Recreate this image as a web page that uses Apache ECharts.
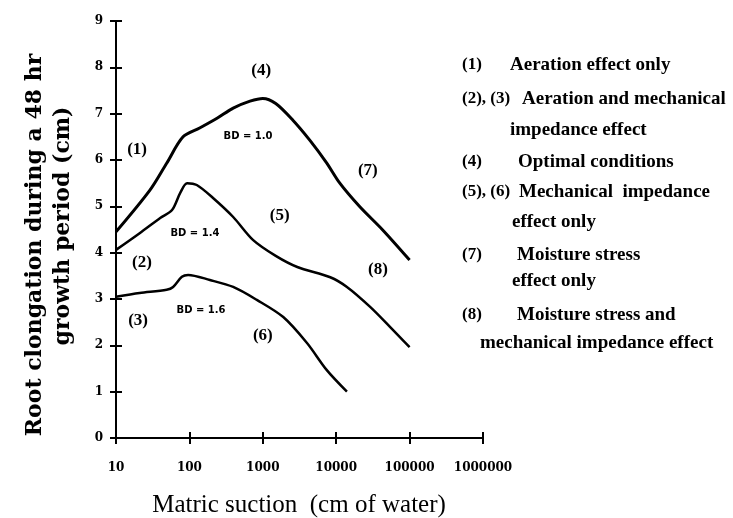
<!DOCTYPE html>
<html>
<head>
<meta charset="utf-8">
<script src="https://cdn.jsdelivr.net/npm/echarts@6/dist/echarts.min.js"></script>
<style>
html,body{margin:0;padding:0;background:#fff;}
#c{width:733px;height:518px;}
</style>
</head>
<body>
<div id="c"></div>
<script>
// ---- data ----
var xTicks = [10, 100, 1000, 10000, 100000, 1000000];
var yTicks = [0,1,2,3,4,5,6,7,8,9];

var suctionBD10 = [10, 29, 49, 82, 138, 238, 395, 670, 1000, 1500, 2570, 4360, 7400, 11200, 21000, 43000, 100000];
var elongBD10   = [4.45, 5.35, 5.93, 6.5, 6.69, 6.9, 7.12, 7.27, 7.33, 7.22, 6.86, 6.43, 5.94, 5.5, 4.99, 4.49, 3.84];

var suctionBD14 = [10, 21, 40, 58, 75, 93, 126, 210, 395, 740, 1500, 2950, 8300, 14000, 29000, 54000, 100000];
var elongBD14   = [4.06, 4.42, 4.75, 4.92, 5.29, 5.5, 5.46, 5.18, 4.77, 4.27, 3.93, 3.69, 3.47, 3.26, 2.83, 2.4, 1.96];

var suctionBD16 = [10, 21, 49, 60, 79, 96, 190, 395, 830, 1900, 4000, 7400, 14000];
var elongBD16   = [3.05, 3.13, 3.2, 3.26, 3.48, 3.52, 3.41, 3.26, 2.98, 2.61, 2.05, 1.47, 1.0];

var annoText = ["(4)", "(1)", "BD = 1.0", "(7)", "BD = 1.4", "(5)", "(2)", "(8)", "BD = 1.6", "(3)", "(6)"];
var annoX    = [950, 19.4, 630, 27000, 119, 1700, 22.6, 37000, 144, 20, 1000];
var annoY    = [7.94, 6.22, 6.5, 5.78, 4.42, 4.79, 3.78, 3.63, 2.76, 2.53, 2.2];

var legendLines = [
  ["(1)", "Aeration effect only"],
  ["(2), (3)", "Aeration and mechanical"],
  ["", "impedance effect"],
  ["(4)", "Optimal conditions"],
  ["(5), (6)", "Mechanical  impedance"],
  ["", "effect only"],
  ["(7)", "Moisture stress"],
  ["", "effect only"],
  ["(8)", "Moisture stress and"],
  ["", "mechanical impedance effect"]
];

var yTitle1 = "Root clongation during a 48 hr";
var yTitle2 = "growth period (cm)";
var xTitle  = "Matric suction  (cm of water)";

// ---- build ----
function pairs(xs, ys){ return xs.map(function(x,i){ return [x, ys[i]]; }); }
var serif = '"Liberation Serif","DejaVu Serif",serif';
var wideSerif = '"DejaVu Serif",serif';

var chart = echarts.init(document.getElementById('c'));

var legendX1 = [462, 462, 0, 462, 462, 0, 462, 0, 462, 0];
var legendX2 = [510, 522, 510, 518, 519, 512, 517, 512, 517, 480];
var legendY  = [65, 99, 130, 162, 192, 222, 255, 281, 315, 343];
var graphics = [];
legendLines.forEach(function(l, i){
  if (l[0]) graphics.push({type:'text', x:legendX1[i], y:legendY[i],
    style:{text:l[0], font:'bold 17px '+serif, fill:'#000', verticalAlign:'middle'}});
  graphics.push({type:'text', x:legendX2[i], y:legendY[i],
    style:{text:l[1], font:'bold 19px '+serif, fill:'#000', verticalAlign:'middle'}});
});
graphics.push({type:'text', x:35, y:245, rotation:Math.PI/2,
  style:{text:yTitle1, font:'bold 22px '+wideSerif, fill:'#000', align:'center', verticalAlign:'middle'}});
graphics.push({type:'text', x:63, y:226, rotation:Math.PI/2,
  style:{text:yTitle2, font:'bold 22px '+wideSerif, fill:'#000', align:'center', verticalAlign:'middle'}});
graphics.push({type:'text', x:299, y:505,
  style:{text:xTitle, font:'25px '+serif, fill:'#000', align:'center', verticalAlign:'middle'}});

var tickLabel = {color:'#000', fontFamily:wideSerif, fontWeight:'bold', fontSize:12};

chart.setOption({
  animation:false,
  backgroundColor:'#fff',
  grid:{left:116, right:250, top:21, bottom:80},
  xAxis:[{
    type:'log', logBase:10, min:xTicks[0], max:xTicks[xTicks.length-1],
    axisLine:{show:true, lineStyle:{color:'#000', width:2}},
    axisTick:{show:true, length:6, lineStyle:{color:'#000', width:2}},
    minorTick:{show:false},
    axisLabel:Object.assign({margin:24, formatter:function(v){return String(v);}}, tickLabel),
    splitLine:{show:false}
  },{
    type:'log', logBase:10, min:xTicks[0], max:xTicks[xTicks.length-1], position:'bottom',
    axisLine:{show:false},
    axisTick:{show:true, inside:true, length:6, lineStyle:{color:'#000', width:2}},
    axisLabel:{show:false}, splitLine:{show:false}
  }],
  yAxis:[{
    type:'value', min:yTicks[0], max:yTicks[yTicks.length-1], interval:1,
    axisLine:{show:true, lineStyle:{color:'#000', width:2}},
    axisTick:{show:true, length:6, lineStyle:{color:'#000', width:2}},
    axisLabel:Object.assign({margin:13}, tickLabel),
    splitLine:{show:false}
  },{
    type:'value', min:yTicks[0], max:yTicks[yTicks.length-1], interval:1, position:'left',
    axisLine:{show:false},
    axisTick:{show:true, inside:true, length:6, lineStyle:{color:'#000', width:2}},
    axisLabel:{show:false}, splitLine:{show:false}
  }],
  graphic:graphics,
  series:[
    {type:'line', name:'BD = 1.0', data:pairs(suctionBD10, elongBD10), smooth:0.3, showSymbol:false,
     lineStyle:{color:'#000', width:3}},
    {type:'line', name:'BD = 1.4', data:pairs(suctionBD14, elongBD14), smooth:0.3, showSymbol:false,
     lineStyle:{color:'#000', width:2.5}},
    {type:'line', name:'BD = 1.6', data:pairs(suctionBD16, elongBD16), smooth:0.3, showSymbol:false,
     lineStyle:{color:'#000', width:2.5}},
    {type:'scatter', name:'annotations', symbolSize:0, silent:true,
     itemStyle:{opacity:1, color:'#000'},
     data:annoText.map(function(t,i){
       var d = {value:[annoX[i], annoY[i]], name:t};
       if (t.indexOf('BD') === 0) d.label = {fontSize:10, fontFamily:'"DejaVu Sans",sans-serif'};
       return d;
     }),
     label:{show:true, position:'inside', formatter:function(p){return p.name;},
       color:'#000', opacity:1, fontFamily:serif, fontWeight:'bold', fontSize:17}}
  ]
});
</script>
</body>
</html>
